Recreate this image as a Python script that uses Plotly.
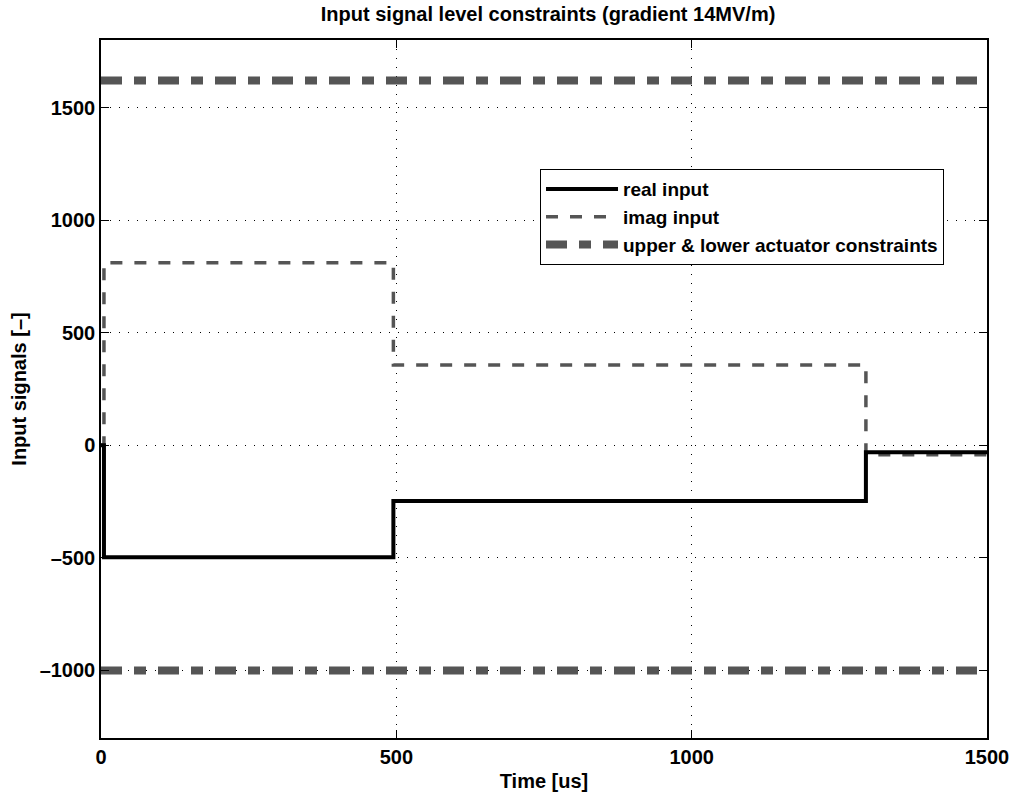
import plotly.graph_objects as go

# data
t_steps = [0, 5, 495, 1295, 1500]
real_input = [0, -497, -247, -31, -31]
imag_input = [0, 811, 357, -42, -42]
t_limits = [0, 1500]
upper_limit = [1620, 1620]
lower_limit = [-1000, -1000]
y_tickvals = [-1000, -500, 0, 500, 1000, 1500]
y_ticktext = ["–1000", "–500", "0", "500", "1000", "1500"]
x_tickvals = [0, 500, 1000, 1500]

FONT = "Liberation Sans, Arial, Helvetica, sans-serif"
GRAY = "rgb(85,85,85)"
FS = 20

fig = go.Figure()
fig.add_trace(go.Scatter(x=t_limits, y=upper_limit, mode="lines",
                         name="<b>upper & lower actuator constraints</b>", legendgroup="c",
                         line=dict(color=GRAY, width=8, dash="21px,12px,12px,12px"),
                         legendrank=3))
fig.add_trace(go.Scatter(x=t_limits, y=lower_limit, mode="lines", showlegend=False,
                         legendgroup="c",
                         line=dict(color=GRAY, width=8, dash="21px,12px,12px,12px")))
fig.add_trace(go.Scatter(x=t_steps, y=imag_input, mode="lines", name="<b>imag input</b>",
                         line=dict(color=GRAY, width=3.5, dash="12px,12px", shape="hv"),
                         legendrank=2))
fig.add_trace(go.Scatter(x=t_steps, y=real_input, mode="lines", name="<b>real input</b>",
                         line=dict(color="black", width=4, shape="hv"), legendrank=1))

axis_common = dict(showline=True, linecolor="black", linewidth=1.5, mirror="ticks",
                   ticks="inside", ticklen=8, tickcolor="black",
                   showgrid=True, gridcolor="black", griddash="1px,8px", gridwidth=1,
                   zeroline=False,
                   tickfont=dict(family=FONT, size=FS, color="black"))

fig.update_layout(
    width=1021, height=801,
    margin=dict(l=101, r=26, t=40, b=56),
    paper_bgcolor="white", plot_bgcolor="white",
    font=dict(family=FONT, color="black"),
    title=dict(text="<b>Input signal level constraints (gradient 14MV/m)</b>",
               x=0.5368, xanchor="center", y=0.983, yanchor="middle",
               font=dict(family=FONT, size=FS, color="black")),
    xaxis=dict(range=[0, 1500], tickvals=x_tickvals,
               ticktext=[f"<b>{v}</b>" for v in x_tickvals],
               title=dict(text="<b>Time [us]</b>", standoff=7,
                          font=dict(family=FONT, size=FS)),
               **axis_common),
    yaxis=dict(range=[-1300, 1800], tickvals=y_tickvals,
               ticktext=[f"<b>{s}</b>" for s in y_ticktext],
               title=dict(text="<b>Input signals [–]</b>", standoff=8,
                          font=dict(family=FONT, size=FS)),
               **axis_common),
    legend=dict(x=0.4955, y=0.815, xanchor="left", yanchor="top",
                bgcolor="white", bordercolor="black", borderwidth=1,
                font=dict(family=FONT, size=19, color="black"),
                traceorder="normal", tracegroupgap=0, itemwidth=72),
    showlegend=True,
)

fig.write_html("out.html", config={"displayModeBar": False},
               post_script="document.body.style.margin='0';")
